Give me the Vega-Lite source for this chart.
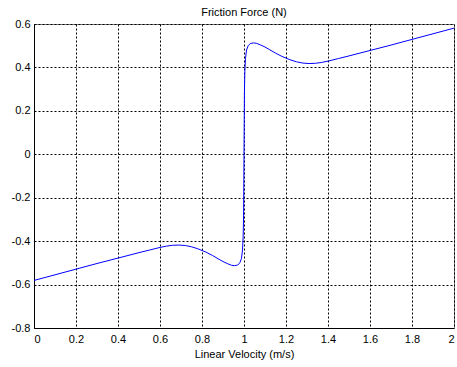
{
  "$schema": "https://vega.github.io/schema/vega-lite/v6.json",
  "width": 420,
  "height": 304,
  "autosize": {"type": "none"},
  "padding": {"left": 34, "top": 24, "right": 3, "bottom": 39},
  "background": "white",
  "config": {
    "font": "Liberation Sans",
    "view": {"stroke": "#808080", "strokeWidth": 1},
    "axis": {
      "labelFont": "Liberation Sans",
      "titleFont": "Liberation Sans",
      "labelFontSize": 11,
      "titleFontSize": 11,
      "titleFontWeight": "normal",
      "labelColor": "black",
      "titleColor": "black",
      "domainColor": "black",
      "domainWidth": 1,
      "ticks": false,
      "grid": true,
      "gridColor": "black",
      "gridOpacity": 1,
      "gridDash": [2, 2],
      "gridWidth": 1
    }
  },
  "title": {
    "text": "Friction Force (N)",
    "font": "Liberation Sans",
    "fontSize": 11,
    "fontWeight": "normal",
    "color": "black",
    "anchor": "middle",
    "frame": "group",
    "offset": 7,
    "dy": 7
  },
  "data": {
    "values": [
      {"v": 0, "f": -0.581},
      {"v": 0.1, "f": -0.555},
      {"v": 0.2, "f": -0.529},
      {"v": 0.3, "f": -0.503},
      {"v": 0.4, "f": -0.478},
      {"v": 0.5, "f": -0.453},
      {"v": 0.55, "f": -0.441},
      {"v": 0.6, "f": -0.429},
      {"v": 0.63, "f": -0.423},
      {"v": 0.66, "f": -0.419},
      {"v": 0.69, "f": -0.418},
      {"v": 0.72, "f": -0.42},
      {"v": 0.75, "f": -0.426},
      {"v": 0.78, "f": -0.435},
      {"v": 0.8, "f": -0.443},
      {"v": 0.82, "f": -0.451},
      {"v": 0.85, "f": -0.466},
      {"v": 0.88, "f": -0.483},
      {"v": 0.9, "f": -0.494},
      {"v": 0.92, "f": -0.503},
      {"v": 0.94, "f": -0.511},
      {"v": 0.955, "f": -0.513},
      {"v": 0.97, "f": -0.51},
      {"v": 0.98, "f": -0.5},
      {"v": 0.988, "f": -0.48},
      {"v": 0.993, "f": -0.44},
      {"v": 0.996, "f": -0.38},
      {"v": 0.998, "f": -0.28},
      {"v": 0.999, "f": -0.15},
      {"v": 1.0, "f": 0},
      {"v": 1.001, "f": 0.15},
      {"v": 1.002, "f": 0.28},
      {"v": 1.004, "f": 0.38},
      {"v": 1.007, "f": 0.44},
      {"v": 1.012, "f": 0.48},
      {"v": 1.02, "f": 0.5},
      {"v": 1.03, "f": 0.51},
      {"v": 1.045, "f": 0.513},
      {"v": 1.06, "f": 0.511},
      {"v": 1.08, "f": 0.503},
      {"v": 1.1, "f": 0.494},
      {"v": 1.12, "f": 0.483},
      {"v": 1.15, "f": 0.466},
      {"v": 1.18, "f": 0.451},
      {"v": 1.2, "f": 0.443},
      {"v": 1.22, "f": 0.435},
      {"v": 1.25, "f": 0.426},
      {"v": 1.28, "f": 0.42},
      {"v": 1.31, "f": 0.418},
      {"v": 1.34, "f": 0.419},
      {"v": 1.37, "f": 0.423},
      {"v": 1.4, "f": 0.429},
      {"v": 1.45, "f": 0.441},
      {"v": 1.5, "f": 0.453},
      {"v": 1.6, "f": 0.478},
      {"v": 1.7, "f": 0.503},
      {"v": 1.8, "f": 0.529},
      {"v": 1.9, "f": 0.555},
      {"v": 2.0, "f": 0.581}
    ]
  },
  "mark": {"type": "line", "color": "#0000ff", "strokeWidth": 1, "clip": true},
  "encoding": {
    "x": {
      "field": "v",
      "type": "quantitative",
      "scale": {"domain": [0, 2], "nice": false, "zero": false},
      "axis": {
        "title": "Linear Velocity (m/s)",
        "values": [0, 0.2, 0.4, 0.6, 0.8, 1, 1.2, 1.4, 1.6, 1.8, 2],
        "labelExpr": "'' + datum.value",
        "labelPadding": 5,
        "titlePadding": 4
      }
    },
    "y": {
      "field": "f",
      "type": "quantitative",
      "scale": {"domain": [-0.8, 0.6], "nice": false, "zero": false},
      "axis": {
        "title": null,
        "values": [-0.8, -0.6, -0.4, -0.2, 0, 0.2, 0.4, 0.6],
        "labelExpr": "'' + datum.value",
        "labelPadding": 4
      }
    }
  }
}
